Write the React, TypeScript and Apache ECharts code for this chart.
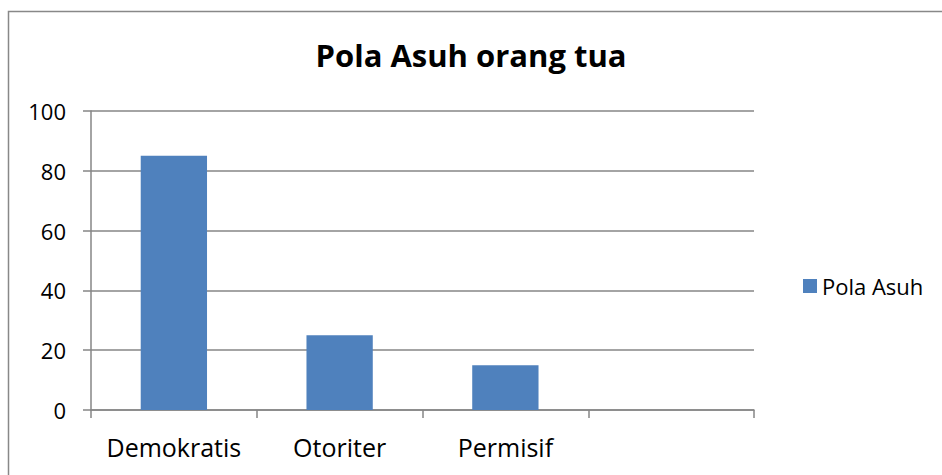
import React, { useEffect, useRef } from "react";
import * as echarts from "echarts";

const categories = ["Demokratis", "Otoriter", "Permisif", ""];
const values = [85, 25, 15, null];
const seriesName = "Pola Asuh";
const titleText = "Pola Asuh orang tua";

export default function App() {
  const ref = useRef<HTMLDivElement>(null);
  useEffect(() => {
    const chart = echarts.init(ref.current!, null, { renderer: "svg" });
    const font = "Open Sans";
    chart.setOption({
      animation: false,
      backgroundColor: "#ffffff",
      title: {
        text: titleText,
        left: "center",
        top: 34,
        textStyle: { fontFamily: font, fontSize: 31, fontWeight: "bold", color: "#000" },
      },
      legend: {
        left: 798,
        top: 270,
        icon: "rect",
        itemWidth: 14,
        itemHeight: 14,
        textStyle: { fontFamily: font, fontSize: 22, color: "#000" },
        data: [seriesName],
      },
      grid: { left: 91, right: 188, top: 111, bottom: 65 },
      xAxis: {
        type: "category",
        data: categories,
        boundaryGap: true,
        axisLine: { lineStyle: { color: "#868686", width: 1.5 } },
        axisTick: { show: true, interval: 0, length: 8, lineStyle: { color: "#868686", width: 1.5 } },
        axisLabel: { interval: 0, fontFamily: font, fontSize: 25, color: "#000", margin: 24 },
      },
      yAxis: {
        type: "value",
        min: 0,
        max: 100,
        interval: 20,
        axisLine: { show: true, lineStyle: { color: "#868686", width: 1.5 } },
        axisTick: { show: true, length: 8, lineStyle: { color: "#868686", width: 1.5 } },
        splitLine: { lineStyle: { color: "#868686", width: 1.5 } },
        axisLabel: { fontFamily: font, fontSize: 22, color: "#000", margin: 25 },
      },
      series: [
        {
          name: seriesName,
          type: "bar",
          data: values,
          barWidth: "40%",
          itemStyle: { color: "#4F81BD" },
        },
      ],
      graphic: [
        {
          type: "rect",
          shape: { x: 8.5, y: 11.5, width: 960, height: 500 },
          style: { fill: "none", stroke: "#888888", lineWidth: 1.5 },
          silent: true,
        },
      ],
    });
    return () => chart.dispose();
  }, []);
  return (
    <div
      ref={ref}
      style={{ position: "fixed", left: 0, top: 0, width: 942, height: 475 }}
    />
  );
}
